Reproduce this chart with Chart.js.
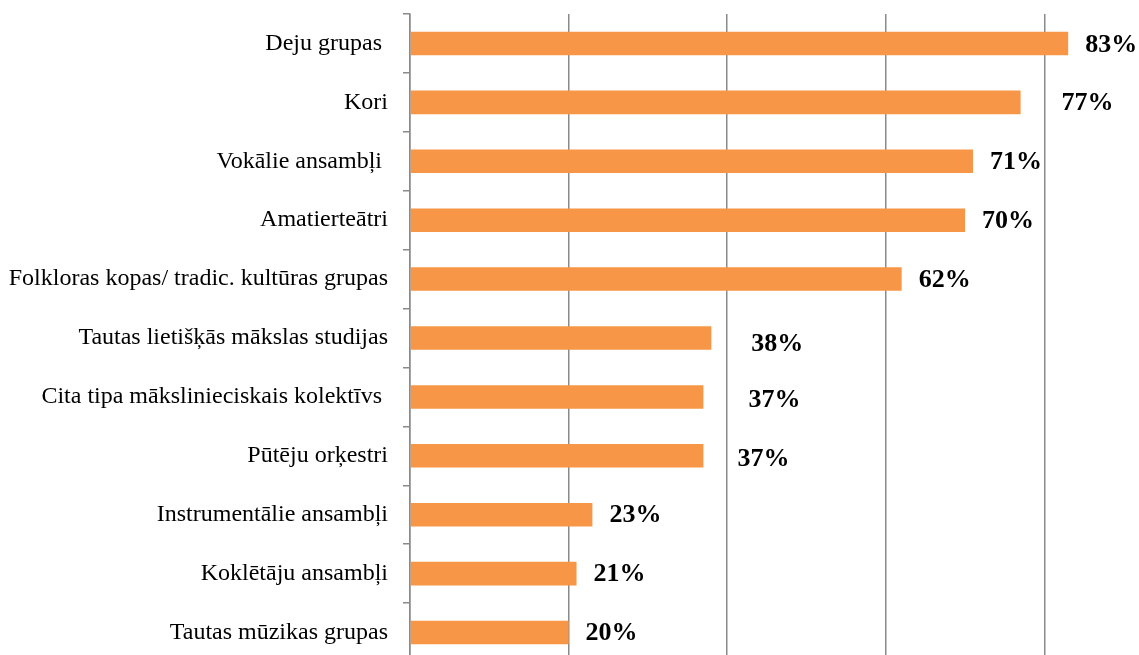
<!DOCTYPE html>
<html>
<head>
<meta charset="utf-8">
<script src="https://cdn.jsdelivr.net/npm/chart.js@4/dist/chart.umd.min.js"></script>
<style>
  html, body { margin: 0; padding: 0; background: #fff; overflow: hidden; }
  #wrap { width: 1139px; height: 655px; overflow: hidden; }
</style>
</head>
<body>
<div id="wrap"><canvas id="groupsChart" width="1210" height="663"></canvas></div>
<script>
// Data
const categories = [
  'Deju grupas ',
  'Kori',
  'Vokālie ansambļi ',
  'Amatierteātri',
  'Folkloras kopas/ tradic. kultūras grupas',
  'Tautas lietišķās mākslas studijas',
  'Cita tipa mākslinieciskais kolektīvs ',
  'Pūtēju orķestri',
  'Instrumentālie ansambļi',
  'Koklētāju ansambļi',
  'Tautas mūzikas grupas'
];
const shares = [83, 77, 71, 70, 62, 38, 37, 37, 23, 21, 20];
const gridTicks = [0, 20, 40, 60, 80, 100];

// Labels in the original were moved by hand a little
const labelNudgeX = [0, 24, 0, 0, 0, 23, 28, 17, 0, 0, 0];
const labelNudgeY = [1, 0, 0, 0, 0, 5, 2, 2, 0, 0, 0];

const GRID = '#8a8a8a';
const SERIF = '"Liberation Serif", "Times New Roman", serif';

const valueLabels = {
  id: 'valueLabels',
  afterDatasetsDraw(chart) {
    const { ctx } = chart;
    const meta = chart.getDatasetMeta(0);
    ctx.save();
    ctx.font = 'bold 26px ' + SERIF;
    ctx.fillStyle = '#000';
    ctx.textAlign = 'left';
    ctx.textBaseline = 'middle';
    meta.data.forEach((bar, i) => {
      const x = bar.x + 17 + (labelNudgeX[i] || 0);
      const y = bar.y + 1 + (labelNudgeY[i] || 0);
      ctx.fillText(shares[i] + '%', x, y);
    });
    ctx.restore();
  }
};

new Chart(document.getElementById('groupsChart').getContext('2d'), {
  type: 'bar',
  data: {
    labels: categories,
    datasets: [{
      data: shares,
      backgroundColor: '#F79646',
      borderWidth: 0,
      categoryPercentage: 1,
      barPercentage: 0.4
    }]
  },
  options: {
    indexAxis: 'y',
    responsive: false,
    animation: false,
    layout: { padding: { top: 14, right: 7, bottom: 1, left: 0 } },
    plugins: {
      legend: { display: false },
      tooltip: { enabled: false }
    },
    scales: {
      x: {
        min: 0,
        max: 100,
        afterBuildTicks(scale) {
          scale.ticks = gridTicks.map((v) => ({ value: v }));
        },
        afterFit(scale) {
          scale.height = 0;
          scale.paddingLeft = 0;
          scale.paddingRight = 0;
        },
        ticks: { display: false },
        grid: { color: GRID, lineWidth: 1.5, drawTicks: false },
        border: { display: false }
      },
      y: {
        afterFit(scale) {
          scale.width = 410;
          scale.paddingTop = 0;
          scale.paddingBottom = 0;
        },
        ticks: {
          color: '#000',
          font: { family: SERIF, size: 24 },
          padding: 15
        },
        grid: {
          offset: true,
          drawOnChartArea: false,
          drawTicks: true,
          tickLength: 7,
          color: GRID,
          lineWidth: 1.5
        },
        border: { color: GRID, width: 1.5 }
      }
    }
  },
  plugins: [valueLabels]
});
</script>
</body>
</html>
